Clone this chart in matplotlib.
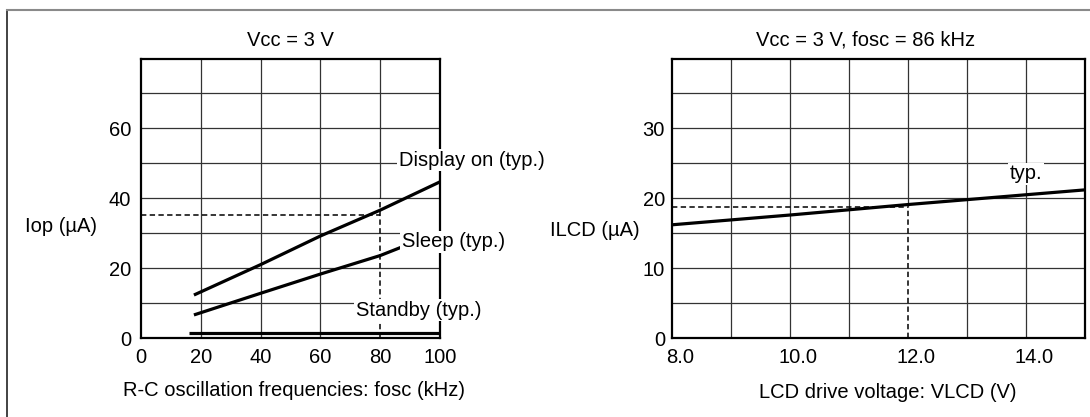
import numpy as np
import matplotlib.pyplot as plt
from matplotlib.lines import Line2D
from matplotlib.transforms import ScaledTranslation

plt.rcParams['font.family'] = ['Liberation Sans', 'DejaVu Sans']
plt.rcParams['font.size'] = 14.5

# ---------------- left chart: Iop vs fosc (Vcc = 3 V) ----------------
display_fosc = [17.7, 40, 60, 80, 100]
display_iop = [12.3, 21.0, 29.2, 36.6, 44.7]
sleep_fosc = [17.7, 40, 60, 80, 86.8]
sleep_iop = [6.6, 12.8, 18.3, 23.6, 25.9]
standby_fosc = [16, 100]
standby_iop = [1.3, 1.3]
fosc_ref, iop_ref = 80, 35.3
fosc_ticks = [0, 20, 40, 60, 80, 100]
iop_ticks = [0, 20, 40, 60]

# ---------------- right chart: ILCD vs VLCD ----------------
vlcd = [8.0, 10.0, 12.0, 14.0, 15.0]
ilcd = [16.2, 17.6, 19.1, 20.5, 21.2]
vlcd_ref, ilcd_ref = 12.0, 18.7
vlcd_ticks = [8.0, 10.0, 12.0, 14.0]
ilcd_ticks = [0, 10, 20, 30]

GRID = '#333333'
DASH = (0, (3.5, 2.2))

fig = plt.figure(figsize=(10.9, 4.17), dpi=100)
ax1 = fig.add_axes([141 / 1090, 79 / 417, 299 / 1090, 279.5 / 417])
ax2 = fig.add_axes([672 / 1090, 79 / 417, 413 / 1090, 279.5 / 417])


def style_axes(ax, xlim, ylim, xticks, yticks, xfmt, ypad):
    ax.set_xlim(*xlim)
    ax.set_ylim(*ylim)
    ax.set_xticks(xticks)
    ax.set_xticklabels([xfmt.format(v) for v in xticks])
    ax.set_yticks(yticks)
    ax.tick_params(length=0, labelsize=14.5)
    ax.tick_params(axis='x', pad=7)
    ax.tick_params(axis='y', pad=ypad)
    for sp in ax.spines.values():
        sp.set_linewidth(1.6)
        sp.set_color('black')


# ----- left -----
style_axes(ax1, (0, 100), (0, 80), fosc_ticks, iop_ticks, '{:d}', 7)
ax1.hlines(np.arange(10, 80, 10), 0, 100, colors=GRID, lw=0.9, zorder=1)
ax1.vlines([20, 40, 60], 0, 80, colors=GRID, lw=0.9, zorder=1)
ax1.vlines(fosc_ref, 40, 80, colors=GRID, lw=0.9, zorder=1)
ax1.plot([0, fosc_ref], [iop_ref, iop_ref], color='black', lw=1.1, ls=DASH, zorder=2)
ax1.plot([fosc_ref, fosc_ref], [0, 40], color='black', lw=1.1, ls=DASH, zorder=2)

ax1.plot(display_fosc, display_iop, color='black', lw=2.3, zorder=3, solid_capstyle='butt')
ax1.plot(sleep_fosc, sleep_iop, color='black', lw=2.3, zorder=3, solid_capstyle='butt')
ax1.plot(standby_fosc, standby_iop, color='black', lw=2.3, zorder=3, solid_capstyle='butt')

box = dict(facecolor='white', edgecolor='none', pad=1.0)
ax1.text(86.2, 50.9, 'Display on (typ.)', ha='left', va='center', bbox=box, zorder=6)
ax1.text(87.2, 27.5, 'Sleep (typ.)', ha='left', va='center', bbox=box, zorder=6)
ax1.text(71.8, 8.0, 'Standby (typ.)', ha='left', va='center', bbox=box, zorder=6)

ax1.text(0.5, 1 + 18 / 279.5, 'Vcc = 3 V', transform=ax1.transAxes,
         ha='center', va='center')
ax1.text(0.512, -52 / 279.5, 'R-C oscillation frequencies: fosc (kHz)',
         transform=ax1.transAxes, ha='center', va='center')
ax1.text(-80 / 299, 111 / 279.5, 'Iop (µA)', transform=ax1.transAxes,
         ha='center', va='center')

# ----- right -----
style_axes(ax2, (8, 15), (0, 40), vlcd_ticks, ilcd_ticks, '{:.1f}', 5)
ax2.hlines(np.arange(5, 40, 5), 8, 15, colors=GRID, lw=0.9, zorder=1)
ax2.vlines([9, 10, 11, 13, 14], 0, 40, colors=GRID, lw=0.9, zorder=1)
ax2.vlines(vlcd_ref, ilcd_ref, 40, colors=GRID, lw=0.9, zorder=1)
ax2.plot([8, vlcd_ref], [ilcd_ref, ilcd_ref], color='black', lw=1.1, ls=DASH, zorder=2)
ax2.plot([vlcd_ref, vlcd_ref], [0, ilcd_ref], color='black', lw=1.1, ls=DASH, zorder=2)

ax2.plot(vlcd, ilcd, color='black', lw=2.3, zorder=3, solid_capstyle='butt')
ax2.text(14.0, 23.5, 'typ.', ha='center', va='center', bbox=box, zorder=6)

# shift the x tick labels slightly right like the original
shift = ScaledTranslation(0.08, 0, fig.dpi_scale_trans)
for lbl in ax2.get_xticklabels():
    lbl.set_transform(lbl.get_transform() + shift)

ax2.text(0.4685, 1 + 18 / 279.5, 'Vcc = 3 V, fosc = 86 kHz', transform=ax2.transAxes,
         ha='center', va='center')
ax2.text(0.523, -54 / 279.5, 'LCD drive voltage: VLCD (V)',
         transform=ax2.transAxes, ha='center', va='center')
ax2.text(-77.5 / 413, 108 / 279.5, 'ILCD (µA)', transform=ax2.transAxes,
         ha='center', va='center')

# outer document frame (only top and left edges visible in the crop)
fig.add_artist(Line2D([7 / 1090, 7 / 1090], [0, 1 - 10 / 417],
                      transform=fig.transFigure, color='#222222', lw=1.2))
fig.add_artist(Line2D([7 / 1090, 1], [1 - 10 / 417, 1 - 10 / 417],
                      transform=fig.transFigure, color='#8a8a8a', lw=1.5))

fig.savefig('out.png', dpi=100)
